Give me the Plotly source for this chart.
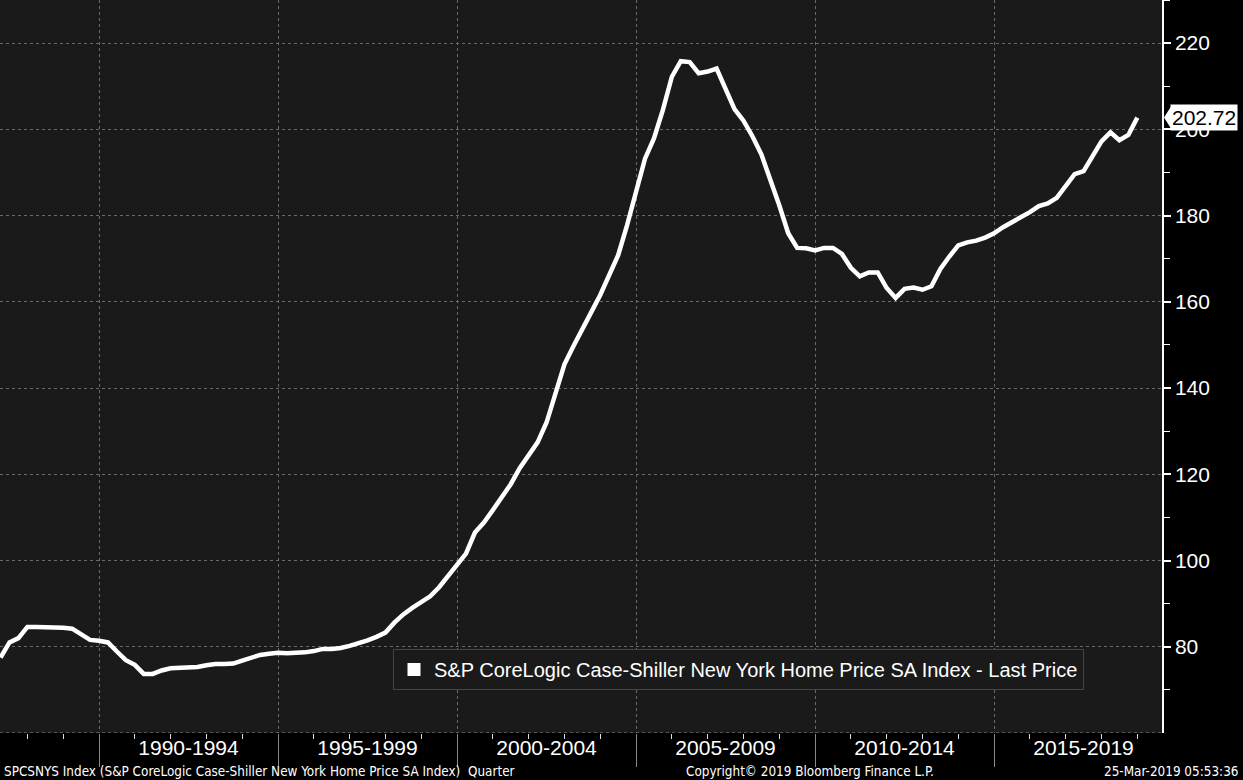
import plotly.graph_objects as go
import pandas as pd

# ---------------- data ----------------
start_quarter = "1987Q1"
values = [
    77.5, 81.0, 82.0, 84.6, 84.6, 84.6, 84.6, 84.4, 84.2, 82.9,
    81.6, 81.4, 81.0, 78.9, 76.9, 75.8, 73.7, 73.7, 74.5, 75.0,
    75.1, 75.1, 75.3, 75.7, 76.0, 76.0, 76.1, 76.8, 77.5, 78.1,
    78.4, 78.6, 78.5, 78.5, 78.7, 79.0, 79.5, 79.5, 79.7, 80.2,
    80.8, 81.5, 82.3, 83.3, 85.6, 87.5, 89.0, 90.2, 91.7, 93.8,
    96.5, 99.2, 101.6, 106.5, 108.8, 111.7, 114.8, 117.7, 121.4, 124.5,
    127.4, 132.0, 139.0, 145.5, 149.7, 153.9, 157.6, 161.6, 166.0, 170.8,
    177.8, 185.8, 193.2, 197.9, 204.5, 212.2, 215.8, 215.6, 213.0, 213.4,
    214.1, 209.4, 204.7, 202.0, 198.4, 194.2, 188.5, 182.4, 175.9, 172.5,
    172.4, 171.9, 172.5, 172.5, 171.1, 167.9, 165.9, 166.8, 166.8, 163.2,
    160.9, 163.0, 163.3, 162.8, 163.6, 167.6, 170.5, 173.1, 173.8, 174.2,
    174.9, 175.9, 177.3, 178.5, 179.4, 180.8, 182.2, 182.8, 184.1, 186.8,
    189.6, 190.3, 193.8, 197.2, 199.3, 197.5, 198.7, 202.72,
]
period_starts = [1990, 1995, 2000, 2005, 2010, 2015]
period_labels = ["1990-1994", "1995-1999", "2000-2004", "2005-2009", "2010-2014", "2015-2019"]
y_ticks = [80, 100, 120, 140, 160, 180, 200, 220]
legend_name = "S&P CoreLogic Case-Shiller New York Home Price SA Index - Last Price"
footer_left = "SPCSNYS Index (S&P CoreLogic Case-Shiller New York Home Price SA Index)\u00a0\u00a0Quarter"
footer_mid = "Copyright\u00a9 2019 Bloomberg Finance L.P."
footer_right = "25-Mar-2019 05:53:36"

# quarter-end positions in decimal years
periods = pd.period_range(start_quarter, periods=len(values), freq="Q")
x = [p.year + p.quarter / 4 for p in periods]
label_pos = [s + 2.5 for s in period_starts]

FONT = "Liberation Sans, Arial, sans-serif"
NARROW = "Liberation Sans Narrow, Arial Narrow, DejaVu Sans Condensed, sans-serif"
X_RANGE = [1987.235, 2019.69]
Y_RANGE = [60, 230]
GRID = "#6a6a6a"

fig = go.Figure()
fig.add_trace(go.Scatter(
    x=x, y=values, mode="lines",
    line=dict(color="white", width=4.5),
    showlegend=False, hoverinfo="skip",
))
fig.add_trace(go.Scatter(
    x=[None], y=[None], mode="markers", xaxis="x2",
    marker=dict(symbol="square", size=13, color="white"),
    name=legend_name, showlegend=True,
))

fig.update_layout(
    width=1243, height=780,
    margin=dict(l=0, r=81, t=0, b=47),
    paper_bgcolor="#000000",
    plot_bgcolor="#1a1a1a",
    font=dict(family=FONT, color="white"),
    xaxis=dict(
        range=X_RANGE, automargin=False,
        tickmode="array", tickvals=label_pos, ticktext=period_labels,
        ticks="", showgrid=False, zeroline=False, showline=False,
        tickfont=dict(size=21, color="white"),
        minor=dict(tickmode="linear", tick0=1990, dtick=1, ticks="outside",
                   ticklen=5, tickwidth=1, tickcolor="#dddddd", showgrid=False),
    ),
    xaxis2=dict(
        overlaying="x", anchor="y", side="bottom",
        range=X_RANGE, automargin=False,
        tickmode="array", tickvals=period_starts, showticklabels=False,
        ticks="outside", ticklen=33, tickwidth=1, tickcolor="#8a8a8a",
        showgrid=True, gridcolor=GRID, griddash="dot", gridwidth=1,
        zeroline=False, showline=False,
    ),
    yaxis=dict(
        range=Y_RANGE, side="right", automargin=False,
        tickmode="array", tickvals=y_ticks,
        ticks="outside", ticklen=7, tickwidth=2, tickcolor="white",
        showline=True, linecolor="white", linewidth=1.5,
        showgrid=True, gridcolor=GRID, griddash="dot", gridwidth=1,
        zeroline=False,
        tickfont=dict(size=21, color="white"),
        minor=dict(tickmode="linear", tick0=70, dtick=20, ticks="outside",
                   ticklen=6, tickwidth=1, tickcolor="white", showgrid=False),
    ),
    legend=dict(
        x=393 / 1162, y=(733 - 649) / 733, xanchor="left", yanchor="top",
        bgcolor="#1a1a1a", bordercolor="#444444", borderwidth=1,
        font=dict(size=20, color="white", family=FONT),
        itemwidth=30, tracegroupgap=0,
    ),
    showlegend=True,
)

# dotted baseline along the bottom of the plot
fig.add_shape(type="line", xref="paper", yref="y", x0=0, x1=1,
              y0=Y_RANGE[0], y1=Y_RANGE[0],
              line=dict(color="#8a8a8a", width=1, dash="dot"))

# last price tag
last = values[-1]
fig.add_shape(type="path", xref="paper", yref="y",
              xsizemode="pixel", ysizemode="pixel",
              xanchor=1, yanchor=last,
              path="M 2 0 L 9 11 L 9 -11 Z",
              fillcolor="white", line=dict(color="white", width=0))
fig.add_annotation(x=1, xref="paper", y=last, yref="y",
                   xanchor="left", yanchor="middle", xshift=8,
                   text=f"{last:.2f}", showarrow=False,
                   font=dict(size=21, color="black", family=FONT),
                   bgcolor="white", borderpad=1)

# footer
fy = (733 - 771) / 733
ffont = dict(size=13.4, color="white", family=NARROW)
fig.add_annotation(x=2 / 1162, xref="paper", y=fy, yref="paper",
                   xanchor="left", yanchor="middle", text=footer_left,
                   showarrow=False, font=ffont)
fig.add_annotation(x=810 / 1162, xref="paper", y=fy, yref="paper",
                   xanchor="center", yanchor="middle", text=footer_mid,
                   showarrow=False, font=ffont)
fig.add_annotation(x=1240 / 1162, xref="paper", y=fy, yref="paper",
                   xanchor="right", yanchor="middle", text=footer_right,
                   showarrow=False, font=ffont)

fig.write_html(
    "out.html",
    config={"displayModeBar": False},
    post_script="document.body.style.margin='0';document.body.style.padding='0';"
                "document.documentElement.style.overflow='hidden';",
)
